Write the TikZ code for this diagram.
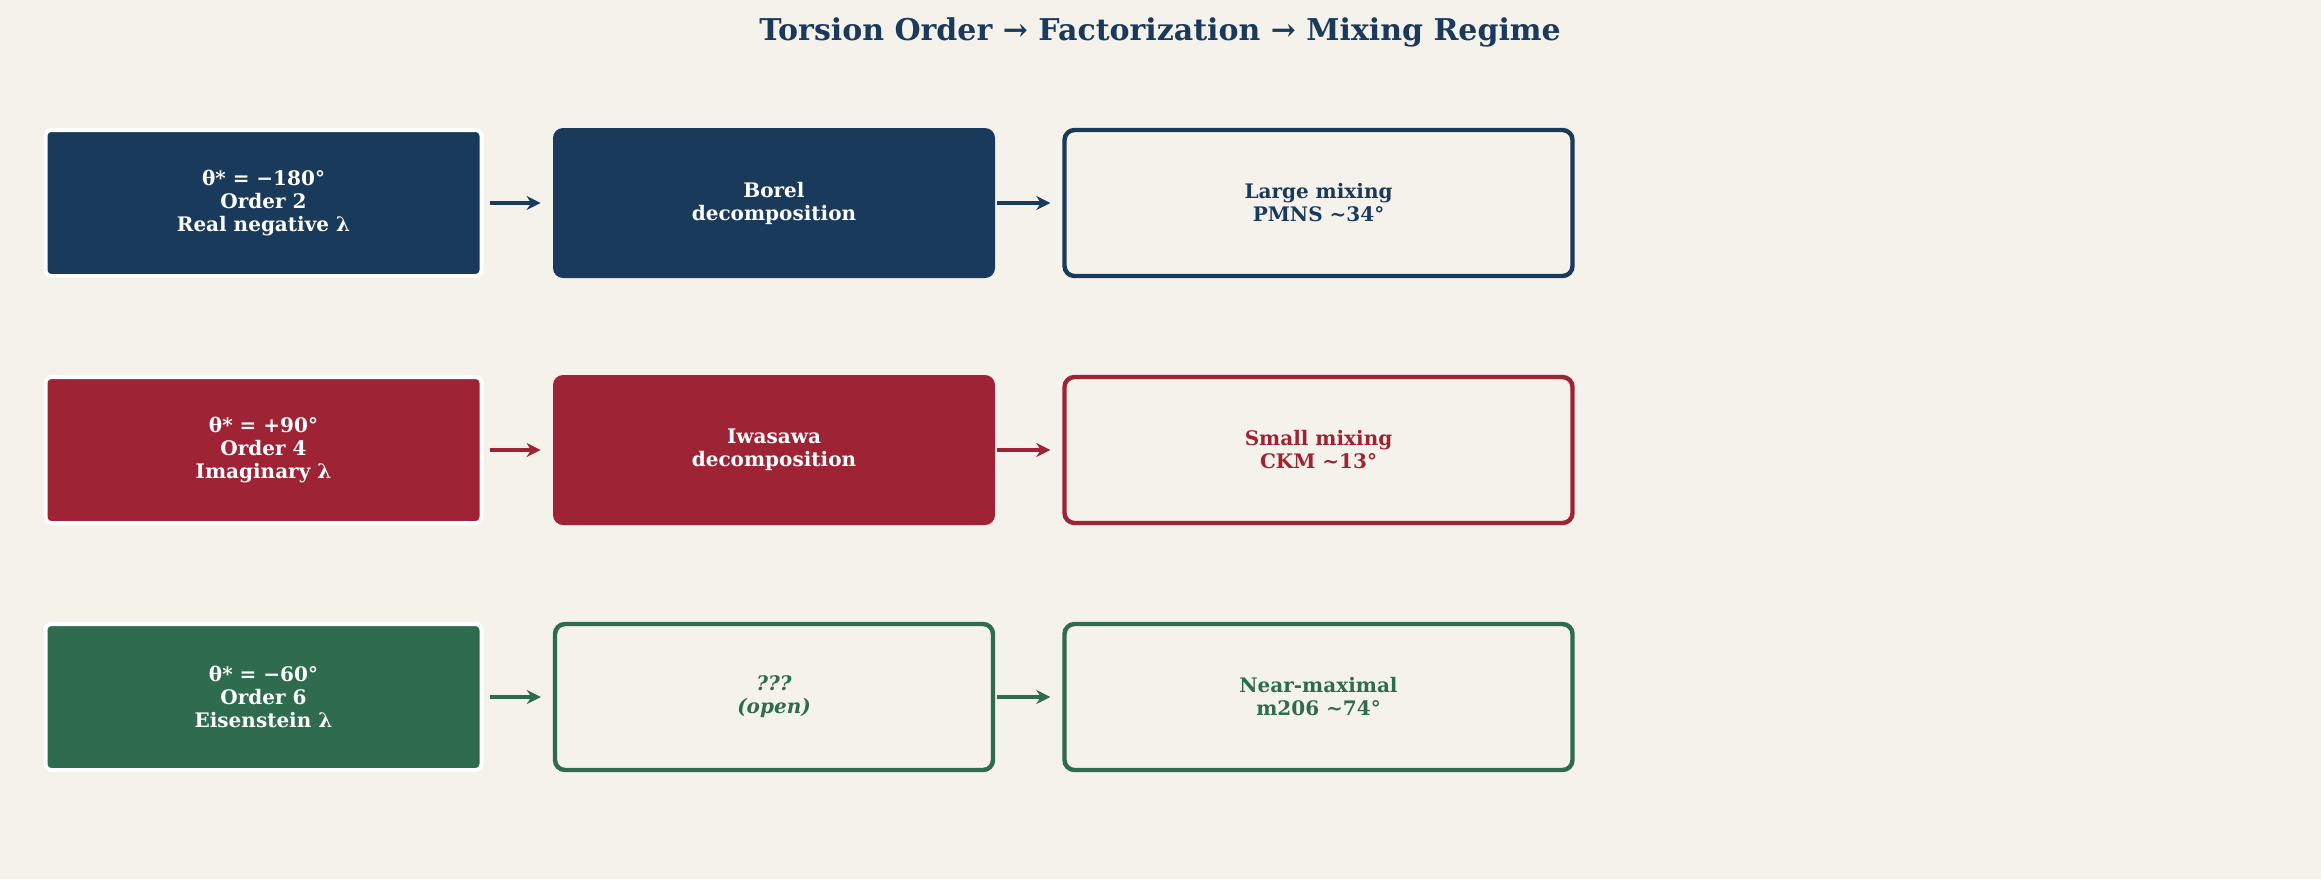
\documentclass[tikz,border=0pt]{standalone}
\usepackage{fontspec}
\setmainfont{DejaVu Serif}
\usetikzlibrary{arrows.meta}
\definecolor{bg}{HTML}{F5F1EB}
\definecolor{cb}{HTML}{1A3A5C}
\definecolor{cr}{HTML}{9E2335}
\definecolor{cg}{HTML}{2E6B4F}
\begin{document}
\begin{tikzpicture}[x=0.5pt,y=-0.5pt,
  txt/.style={font=\bfseries\fontsize{10}{11.5}\selectfont,align=center},
  src/.style={txt,draw=white,line width=2pt,rounded corners=3pt,fill=#1,text=white,minimum width=218pt,minimum height=73pt},
  mid/.style={txt,rounded corners=5pt,fill=#1,text=white,minimum width=221pt,minimum height=75pt},
  mido/.style={txt,rounded corners=5pt,draw=#1,line width=2.2pt,fill=bg,text=#1,minimum width=219pt,minimum height=73pt},
  res/.style={txt,rounded corners=5pt,draw=#1,line width=2.2pt,fill=bg,text=#1,minimum width=254pt,minimum height=73pt},
  arr/.style={-{Stealth[length=7pt,width=7pt]},line width=2.4pt,draw=#1}]
\fill[bg] (0,0) rectangle (2321,879);
\node[font=\bfseries\fontsize{15}{18}\selectfont,text=cb] (title) at (1160,32) {Torsion Order → Factorization → Mixing Regime};
\node[src=cb] (a1) at (263.5,203) {θ* = −180°\\Order 2\\Real negative λ};
\node[mid=cb] (b1) at (774,203) {Borel\\decomposition};
\node[res=cb] (c1) at (1318.5,203) {Large mixing\\PMNS \textasciitilde34°};
\node[src=cr] (a2) at (263.5,450) {θ* = +90°\\Order 4\\Imaginary λ};
\node[mid=cr] (b2) at (774,450) {Iwasawa\\decomposition};
\node[res=cr] (c2) at (1318.5,450) {Small mixing\\CKM \textasciitilde13°};
\node[src=cg] (a3) at (263.5,697) {θ* = −60°\\Order 6\\Eisenstein λ};
\node[mido=cg,font=\bfseries\itshape\fontsize{10}{11.5}\selectfont] (b3) at (774,697) {???\\(open)};
\node[res=cg] (c3) at (1318.5,697) {Near-maximal\\m206 \textasciitilde74°};
\foreach \r/\c in {1/cb,2/cr,3/cg}{
  \draw[arr=\c] ([xshift=3pt]a\r.east) -- ([xshift=-6pt]b\r.west);
  \draw[arr=\c] ([xshift=1pt]b\r.east) -- ([xshift=-6pt]c\r.west);
}
\end{tikzpicture}
\end{document}
